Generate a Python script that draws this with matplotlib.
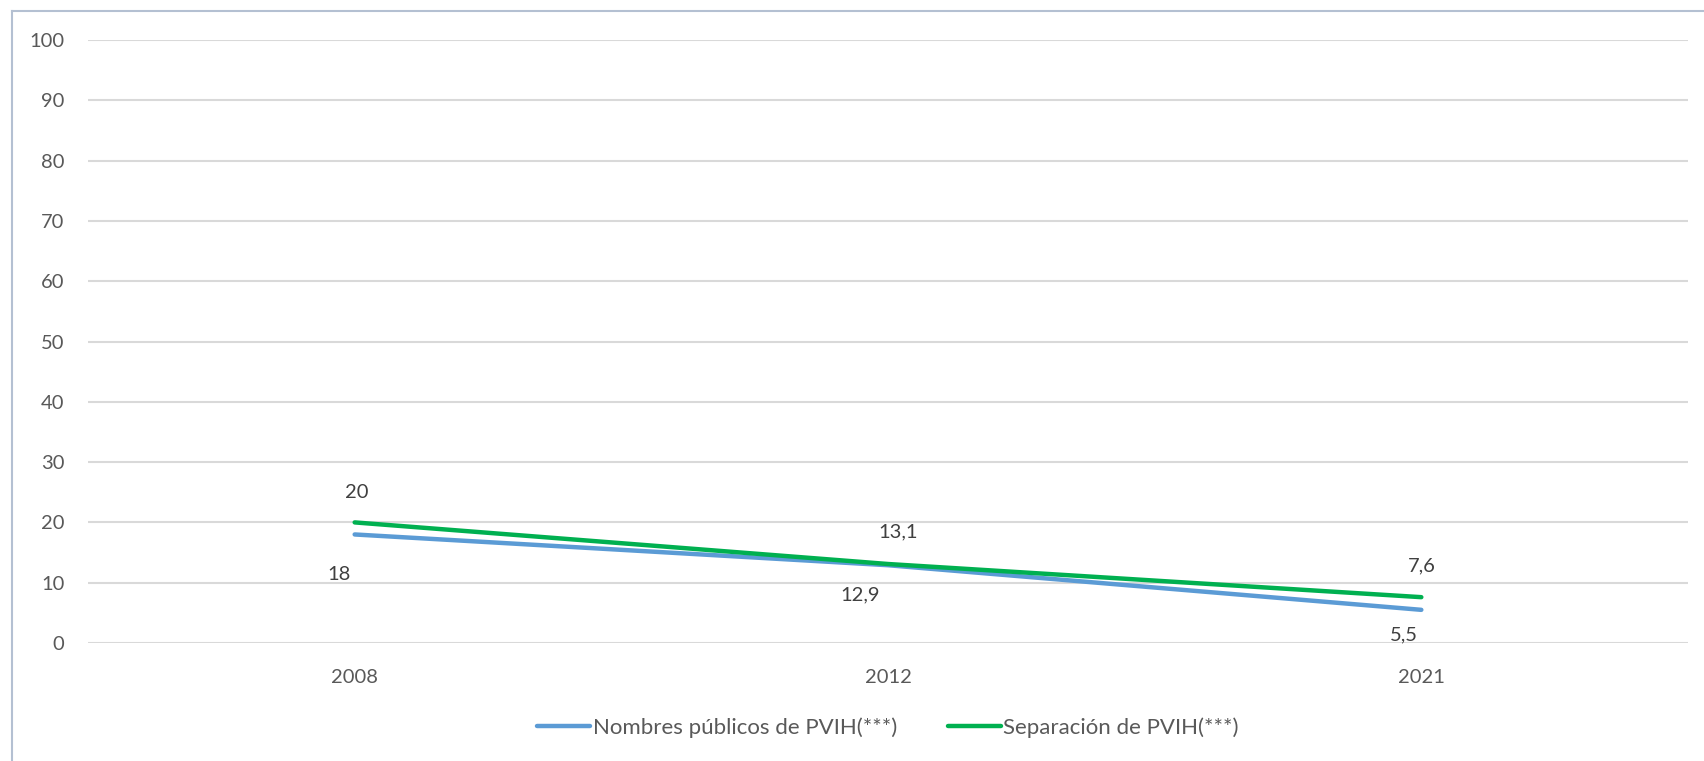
import matplotlib.pyplot as plt
from matplotlib.lines import Line2D

years = ["2008", "2012", "2021"]
nombres = [18, 12.9, 5.5]
separacion = [20, 13.1, 7.6]
nombres_labels = ["18", "12,9", "5,5"]
separacion_labels = ["20", "13,1", "7,6"]

plt.rcParams["font.family"] = ["Lato", "DejaVu Sans"]
fs = 14.5

fig = plt.figure(figsize=(17.04, 7.61), dpi=100)
ax = fig.add_axes([88 / 1704, 1 - 643 / 761, 1600 / 1704, 603 / 761])

# frame: only top and left edges show
top = 1 - 10.5 / 761
left = 12 / 1704
fig.lines.append(Line2D([left, 1], [top, top], transform=fig.transFigure,
                        color="#b4c0d2", lw=1.5))
fig.lines.append(Line2D([left, left], [0, top], transform=fig.transFigure,
                        color="#b4c0d2", lw=1.5))

x = range(len(years))
ax.plot(x, nombres, color="#5b9bd5", lw=3.2, solid_capstyle="round",
        label="Nombres públicos de PVIH(***)")
ax.plot(x, separacion, color="#00b050", lw=3.2, solid_capstyle="round",
        label="Separación de PVIH(***)")

blue_off = [(-16, -40), (-28, -30), (-17, -25)]
green_off = [(2, 30), (10, 32), (0, 31)]
for i in x:
    ax.annotate(nombres_labels[i], (i, nombres[i]), xytext=blue_off[i],
                textcoords="offset pixels", ha="center", va="center",
                fontsize=fs, color="#404040")
    ax.annotate(separacion_labels[i], (i, separacion[i]), xytext=green_off[i],
                textcoords="offset pixels", ha="center", va="center",
                fontsize=fs, color="#404040")

ax.set_xlim(-0.5, 2.5)
ax.set_ylim(0, 100)
ax.set_yticks(range(0, 101, 10))
ax.set_xticks(list(x))
ax.set_xticklabels(years)
ax.grid(axis="y", color="#d9d9d9", lw=1.5)
ax.set_axisbelow(True)
for s in ax.spines.values():
    s.set_visible(False)
ax.tick_params(length=0, labelsize=fs, labelcolor="#595959")
ax.tick_params(axis="y", pad=17)
ax.tick_params(axis="x", pad=19)

ax.legend(loc="center", bbox_to_anchor=(0.5, -0.14), ncol=2, frameon=False,
          fontsize=16, labelcolor="#595959", handlelength=2.4,
          handletextpad=0.1, columnspacing=2.3)

fig.savefig("out.png", dpi=100)
